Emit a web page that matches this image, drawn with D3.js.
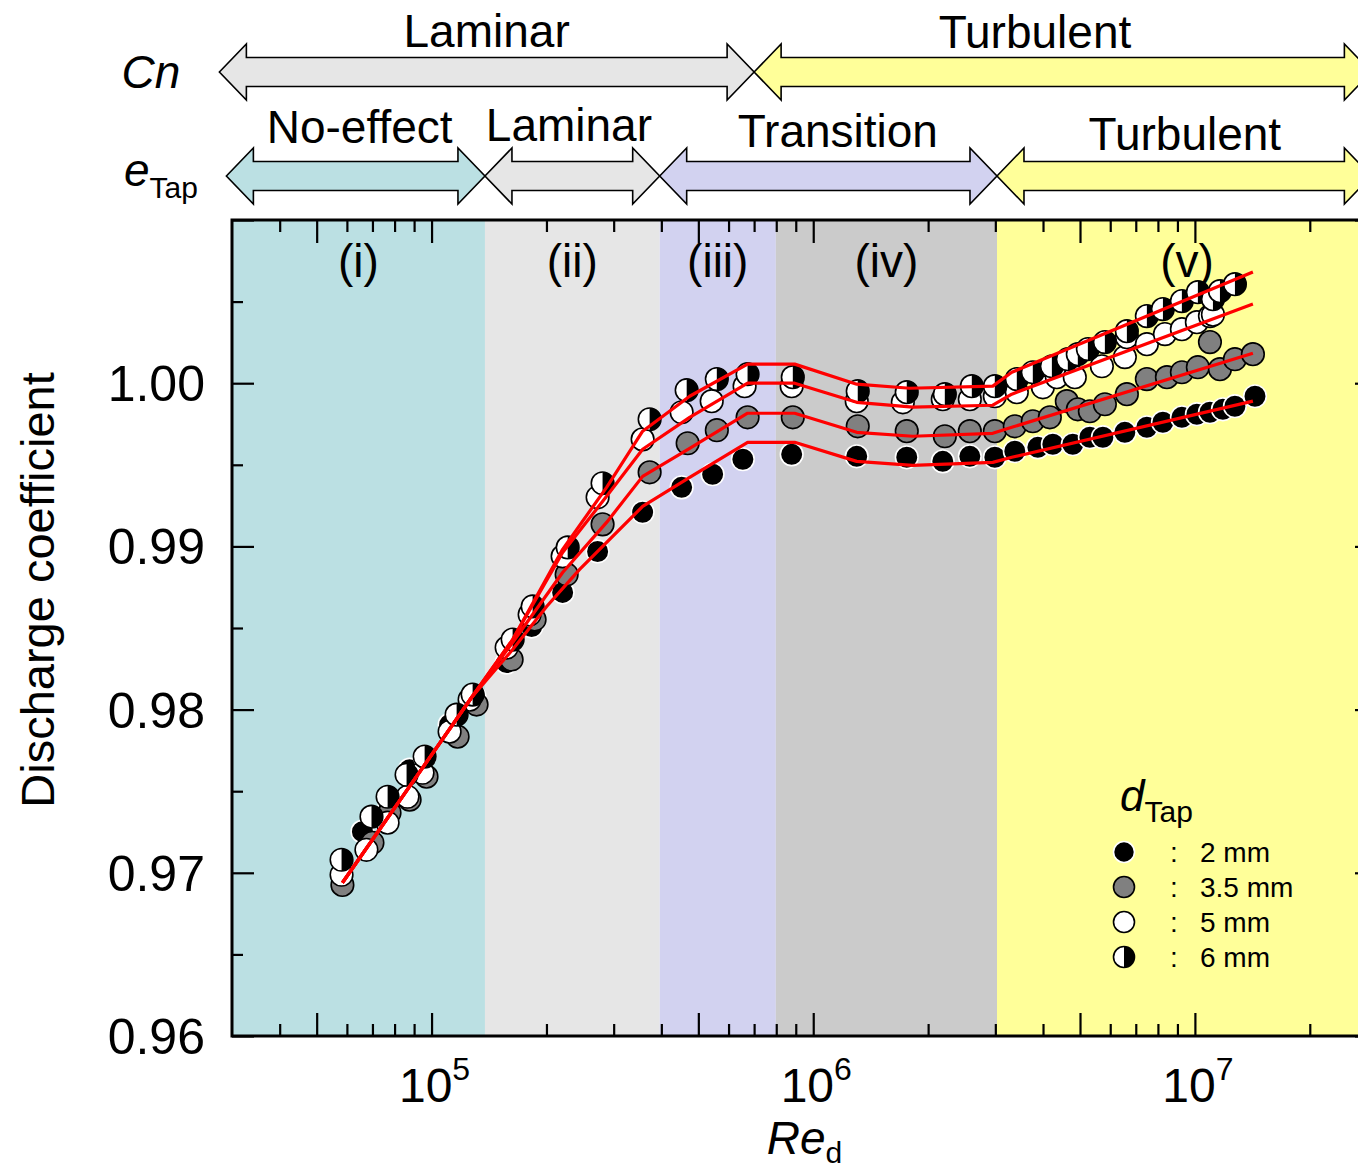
<!DOCTYPE html>
<html><head><meta charset="utf-8">
<script src="https://cdn.jsdelivr.net/npm/d3@7"></script>
<style>body{margin:0;background:#fff} svg{display:block} text{font-family:"Liberation Sans",Arial,sans-serif;fill:#000}</style>
</head><body><svg id="c" width="1358" height="1169"></svg>
<script>
// ---------- data ----------
const xDomain = [3e4, 3e7];
const yDomain = [0.96, 1.01];
const xMajorTicks = [5e4, 1e5, 5e5, 1e6, 5e6, 1e7];
const xMinorTicks = [4e4,6e4,7e4,8e4,9e4,2e5,3e5,4e5,6e5,7e5,8e5,9e5,2e6,3e6,4e6,6e6,7e6,8e6,9e6,2e7];
const xLabelTicks = [1e5, 1e6, 1e7];
const xLabelExp = ['5','6','7'];
const yMajorTicks = [0.96, 0.97, 0.98, 0.99, 1.00, 1.01];
const yMinorTicks = [0.965, 0.975, 0.985, 0.995, 1.005];
const yLabelTicks = [0.96, 0.97, 0.98, 0.99, 1.00];

const regionBounds = [3e4, 1.38e5, 3.96e5, 7.98e5, 3.03e6, 3e7];
const regionLabels = ['(i)', '(ii)', '(iii)', '(iv)', '(v)'];

const cnBounds = [2.78e4, 7e5, 2.9e7];
const cnLabels = ['Laminar', 'Turbulent'];
const cnLabelRe = [1.394e5, 3.81e6];
const eBounds = [2.9e4, 1.38e5, 3.96e5, 3.03e6, 2.9e7];
const eLabels = ['No-effect', 'Laminar', 'Transition', 'Turbulent'];
const eLabelRe = [6.48e4, 2.29e5, 1.16e6, 9.41e6];

const seriesNames = ['2 mm', '3.5 mm', '5 mm', '6 mm'];

const pts2mm = [
 [6.59e4,0.97252],[7.76e4,0.97417],[8.76e4,0.97632],[9.59e4,0.97712],[1.115e5,0.97908],[1.296e5,0.98080],
 [1.573e5,0.98288],[1.829e5,0.98509],[2.205e5,0.98718],[2.723e5,0.98969],[3.573e5,0.99209],[4.521e5,0.99362],[5.45e5,0.99442],[6.54e5,0.99534],
 [8.78e5,0.99564],[1.30e6,0.99552],[1.758e6,0.99546],[2.185e6,0.99521],[2.572e6,0.99552],[2.991e6,0.99546],
 [3.374e6,0.99583],[3.877e6,0.99607],[4.244e6,0.99626],[4.787e6,0.99626],[5.306e6,0.99669],[5.74e6,0.99669],[6.553e6,0.99699],[7.484e6,0.99730],
 [8.245e6,0.99761],[9.246e6,0.99791],[1.012e7,0.99810],[1.095e7,0.99822],[1.184e7,0.99840],[1.273e7,0.99859],[1.437e7,0.99920]
];
const pts35mm = [
 [5.84e4,0.96926],[7.0e4,0.97184],[7.76e4,0.97368],[8.76e4,0.97448],[9.70e4,0.97589],[1.17e5,0.97834],[1.312e5,0.98031],
 [1.621e5,0.98307],[1.862e5,0.98552],[2.259e5,0.98828],[2.806e5,0.99135],[3.727e5,0.99454],[4.688e5,0.99632],[5.59e5,0.99712],[6.73e5,0.99791],
 [8.84e5,0.99791],[1.308e6,0.99736],[1.758e6,0.99706],[2.212e6,0.99675],[2.572e6,0.99706],[2.991e6,0.99706],
 [3.374e6,0.99736],[3.761e6,0.99767],[4.168e6,0.99791],[4.618e6,0.99890],[4.934e6,0.99840],[5.306e6,0.99828],[5.809e6,0.99871],[6.633e6,0.99933],
 [7.484e6,1.00025],[8.447e6,1.00037],[9.246e6,1.00067],[1.018e7,1.00098],[1.095e7,1.00252],[1.163e7,1.00086],[1.273e7,1.00147],[1.419e7,1.00178]
];
const pts5mm = [
 [5.81e4,0.96988],[6.75e4,0.97141],[7.67e4,0.97307],[8.65e4,0.97466],[9.47e4,0.97613],[1.115e5,0.97865],[1.258e5,0.98061],
 [1.573e5,0.98380],[1.807e5,0.98583],[2.205e5,0.98939],[2.723e5,0.99301],[3.573e5,0.99656],[4.521e5,0.99822],[5.42e5,0.99890],[6.61e5,0.99982],
 [8.78e5,0.99982],[1.30e6,0.99890],[1.717e6,0.99883],[2.185e6,0.99902],[2.572e6,0.99902],[2.991e6,0.99920],
 [3.415e6,0.99945],[3.996e6,0.99975],[4.348e6,1.00037],[4.845e6,1.00037],[5.705e6,1.00104],[6.553e6,1.00160],[6.633e6,1.00282],[7.484e6,1.00239],
 [8.346e6,1.00301],[9.246e6,1.00331],[1.012e7,1.00374],[1.095e7,1.00411],[1.115e7,1.00420]
];
const pts6mm = [
 [5.81e4,0.97080],[6.96e4,0.97344],[7.67e4,0.97466],[8.60e4,0.97601],[9.59e4,0.97712],[1.163e5,0.97969],[1.281e5,0.98092],
 [1.631e5,0.98429],[1.84e5,0.98632],[2.273e5,0.98994],[2.806e5,0.99387],[3.727e5,0.99779],[4.66e5,0.99957],[5.59e5,1.00025],[6.73e5,1.00055],
 [8.84e5,1.00037],[1.308e6,0.99951],[1.758e6,0.99945],[2.212e6,0.99933],[2.603e6,0.99982],[2.991e6,0.99982],
 [3.415e6,1.00025],[3.761e6,1.00067],[4.219e6,1.00104],[4.646e6,1.00147],[4.934e6,1.00178],[5.243e6,1.00209],[5.809e6,1.00252],[6.633e6,1.00319],
 [7.484e6,1.00411],[8.245e6,1.00454],[9.246e6,1.00503],[1.018e7,1.00558],[1.115e7,1.00515],[1.163e7,1.00564],[1.273e7,1.00607]
];

const fit2mm = [[5.84e4,0.96939],[1.273e5,0.98074],[1.631e5,0.98368],[2.002e5,0.98632],[2.443e5,0.98859],[3.573e5,0.99245],[4.745e5,0.99423],[6.73e5,0.99638],[8.94e5,0.99638],[1.30e6,0.99521],[1.823e6,0.99497],[2.954e6,0.99515],[3.313e6,0.99546],[1.419e7,0.99890]];
const fit35mm = [[5.84e4,0.96939],[1.273e5,0.98074],[1.631e5,0.98411],[2.205e5,0.98840],[2.875e5,0.99147],[3.573e5,0.99429],[4.745e5,0.99601],[6.73e5,0.99816],[8.94e5,0.99816],[1.30e6,0.99699],[1.823e6,0.99675],[2.954e6,0.99693],[3.313e6,0.99730],[1.419e7,1.00184]];
const fit5mm = [[5.84e4,0.96939],[1.273e5,0.98074],[1.631e5,0.98429],[2.205e5,0.98963],[2.875e5,0.99307],[3.573e5,0.99595],[4.745e5,0.99791],[6.73e5,1.00000],[8.94e5,1.00000],[1.30e6,0.99883],[1.823e6,0.99853],[2.954e6,0.99865],[3.313e6,0.99933],[1.419e7,1.00485]];
const fit6mm = [[5.84e4,0.96939],[1.273e5,0.98074],[1.631e5,0.98429],[2.205e5,0.98982],[2.875e5,0.99362],[3.573e5,0.99706],[4.745e5,0.99920],[6.73e5,1.00117],[8.94e5,1.00117],[1.30e6,0.99994],[1.79e6,0.99969],[2.954e6,0.99982],[3.313e6,1.00067],[1.419e7,1.00681]];

// ---------- style ----------
const regionColors = ['#bbe0e3', '#e6e6e6', '#d2d2f0', '#cbcbcb', '#ffff99'];
const cnColors = ['#e6e6e6', '#ffff99'];
const eColors = ['#bbe0e3', '#e6e6e6', '#d2d2f0', '#ffff99'];
const R = 11.3;

const svg = d3.select('#c');
const M = {left: 232, right: 1377, top: 220, bottom: 1036};
const x = d3.scaleLog().domain(xDomain).range([M.left, M.right]);
const y = d3.scaleLinear().domain(yDomain).range([M.bottom, M.top]);

// regions
const regs = d3.range(regionLabels.length).map(i => ({a: regionBounds[i], b: regionBounds[i+1], label: regionLabels[i], color: regionColors[i]}));
svg.append('g').selectAll('rect').data(regs).join('rect')
  .attr('x', d => x(d.a)).attr('y', M.top).attr('width', d => x(d.b) - x(d.a)).attr('height', M.bottom - M.top)
  .attr('fill', d => d.color);
svg.append('g').selectAll('text').data(regs).join('text')
  .attr('x', d => x(Math.sqrt(d.a * d.b))).attr('y', 277).attr('text-anchor', 'middle')
  .attr('font-size', 46).text(d => d.label);

// axes ticks
function styleAxis(g) { g.select('.domain').remove(); g.selectAll('.tick line').attr('stroke', '#000').attr('stroke-width', 2.2); g.selectAll('.tick text').remove(); }
svg.append('g').attr('transform', `translate(0,${M.bottom})`).call(d3.axisBottom(x).tickValues(xMajorTicks).tickSize(-23)).call(styleAxis);
svg.append('g').attr('transform', `translate(0,${M.bottom})`).call(d3.axisBottom(x).tickValues(xMinorTicks).tickSize(-12)).call(styleAxis);
svg.append('g').attr('transform', `translate(0,${M.top})`).call(d3.axisTop(x).tickValues(xMajorTicks).tickSize(-23)).call(styleAxis);
svg.append('g').attr('transform', `translate(0,${M.top})`).call(d3.axisTop(x).tickValues(xMinorTicks).tickSize(-12)).call(styleAxis);
svg.append('g').attr('transform', `translate(${M.left},0)`).call(d3.axisLeft(y).tickValues(yMajorTicks).tickSize(-22)).call(styleAxis);
svg.append('g').attr('transform', `translate(${M.left},0)`).call(d3.axisLeft(y).tickValues(yMinorTicks).tickSize(-11)).call(styleAxis);
svg.append('g').attr('transform', `translate(${M.right},0)`).call(d3.axisRight(y).tickValues(yMajorTicks).tickSize(-22)).call(styleAxis);
svg.append('g').attr('transform', `translate(${M.right},0)`).call(d3.axisRight(y).tickValues(yMinorTicks).tickSize(-11)).call(styleAxis);

// frame
svg.append('rect').attr('x', M.left).attr('y', M.top).attr('width', M.right - M.left).attr('height', M.bottom - M.top)
  .attr('fill', 'none').attr('stroke', '#000').attr('stroke-width', 3);

// tick labels
svg.append('g').selectAll('text').data(yLabelTicks).join('text')
  .attr('x', 205).attr('y', d => y(d)).attr('dy', '0.36em').attr('text-anchor', 'end').attr('font-size', 50)
  .text(d => d3.format('.2f')(d));
const xl = svg.append('g').selectAll('text').data(xLabelTicks).join('text')
  .attr('x', d => x(d) + 3).attr('y', 1102).attr('text-anchor', 'middle').attr('font-size', 48);
xl.append('tspan').text('10');
xl.append('tspan').attr('dy', -22).attr('font-size', 32).text((d, i) => xLabelExp[i]);

// axis titles
svg.append('text').attr('transform', 'translate(54,590) rotate(-90)').attr('text-anchor', 'middle').attr('font-size', 47).text('Discharge coefficient');
const xt = svg.append('text').attr('x', (M.left + M.right) / 2).attr('y', 1154).attr('text-anchor', 'middle').attr('font-size', 46);
xt.append('tspan').attr('font-style', 'italic').text('Re');
xt.append('tspan').attr('font-size', 30).attr('dy', 9).text('d');

// markers
function drawSeries(data, kind) {
  const g = svg.append('g');
  const pts = g.selectAll('g').data(data).join('g').attr('transform', d => `translate(${x(d[0])},${y(d[1])})`);
  addMarker(pts, kind, R);
}
function addMarker(sel, kind, r) {
  if (kind === 'black') {
    sel.append('circle').attr('r', r).attr('fill', '#000').attr('stroke', '#fff').attr('stroke-width', 1.6);
  } else if (kind === 'gray') {
    sel.append('circle').attr('r', r).attr('fill', '#808080').attr('stroke', '#000').attr('stroke-width', 1.6);
  } else if (kind === 'white') {
    sel.append('circle').attr('r', r).attr('fill', '#fff').attr('stroke', '#000').attr('stroke-width', 1.6);
  } else {
    sel.append('circle').attr('r', r).attr('fill', '#fff');
    sel.append('path').attr('d', `M0,${-r} A${r},${r} 0 0 1 0,${r} Z`).attr('fill', '#000');
    sel.append('circle').attr('r', r).attr('fill', 'none').attr('stroke', '#000').attr('stroke-width', 1.6);
  }
}
drawSeries(pts2mm, 'black');
drawSeries(pts35mm, 'gray');
drawSeries(pts5mm, 'white');
drawSeries(pts6mm, 'half');

// fit lines
const line = d3.line().x(d => x(d[0])).y(d => y(d[1]));
svg.append('g').selectAll('path').data([fit2mm, fit35mm, fit5mm, fit6mm]).join('path')
  .attr('d', line).attr('fill', 'none').attr('stroke', '#ff0000').attr('stroke-width', 3.2).attr('stroke-linejoin', 'round');

// legend
const lg = svg.append('g');
const lt = lg.append('text').attr('x', 1120).attr('y', 811).attr('font-size', 44);
lt.append('tspan').attr('font-style', 'italic').text('d');
lt.append('tspan').attr('font-size', 30).attr('dy', 11).text('Tap');
const kinds = ['black', 'gray', 'white', 'half'];
seriesNames.forEach((nm, i) => {
  const yy = 852 + i * 35;
  const mk = lg.append('g').attr('transform', `translate(1124,${yy})`);
  addMarker(mk, kinds[i], 10.5);
  lg.append('text').attr('x', 1170).attr('y', yy + 10).attr('font-size', 28).text(':');
  lg.append('text').attr('x', 1200).attr('y', yy + 10).attr('font-size', 28).text(nm);
});

// top arrows
function arrowPath(x0, x1, cy, Hh, h, L) {
  return `M${x0},${cy} L${x0+L},${cy-Hh} L${x0+L},${cy-h} L${x1-L},${cy-h} L${x1-L},${cy-Hh} L${x1},${cy} L${x1-L},${cy+Hh} L${x1-L},${cy+h} L${x0+L},${cy+h} L${x0+L},${cy+Hh} Z`;
}
function arrowRow(bounds, labels, labelRe, colors, cy, ty) {
  const items = labels.map((l, i) => ({a: bounds[i], b: bounds[i+1], l, lx: labelRe[i], c: colors[i]}));
  const g = svg.append('g');
  g.selectAll('path.f').data(items).join('path').attr('class', 'f')
    .attr('d', d => arrowPath(x(d.a), x(d.b), cy, 28, 14.5, 27)).attr('fill', d => d.c);
  g.selectAll('path.s').data(items).join('path').attr('class', 's')
    .attr('d', d => arrowPath(x(d.a), x(d.b), cy, 28, 14.5, 27)).attr('fill', 'none').attr('stroke', '#000').attr('stroke-width', 1.6);
  g.selectAll('text').data(items).join('text').attr('x', d => x(d.lx)).attr('y', (d, i) => ty[i])
    .attr('text-anchor', 'middle').attr('font-size', 46).text(d => d.l);
}
arrowRow(cnBounds, cnLabels, cnLabelRe, cnColors, 72, [47, 48]);
arrowRow(eBounds, eLabels, eLabelRe, eColors, 176, [143, 141, 147, 150]);

svg.append('text').attr('x', 151).attr('y', 88).attr('text-anchor', 'middle').attr('font-size', 46).attr('font-style', 'italic').text('Cn');
const et = svg.append('text').attr('x', 124).attr('y', 186).attr('font-size', 46);
et.append('tspan').attr('font-style', 'italic').text('e');
et.append('tspan').attr('font-size', 30).attr('dy', 12).text('Tap');
</script></body></html>
